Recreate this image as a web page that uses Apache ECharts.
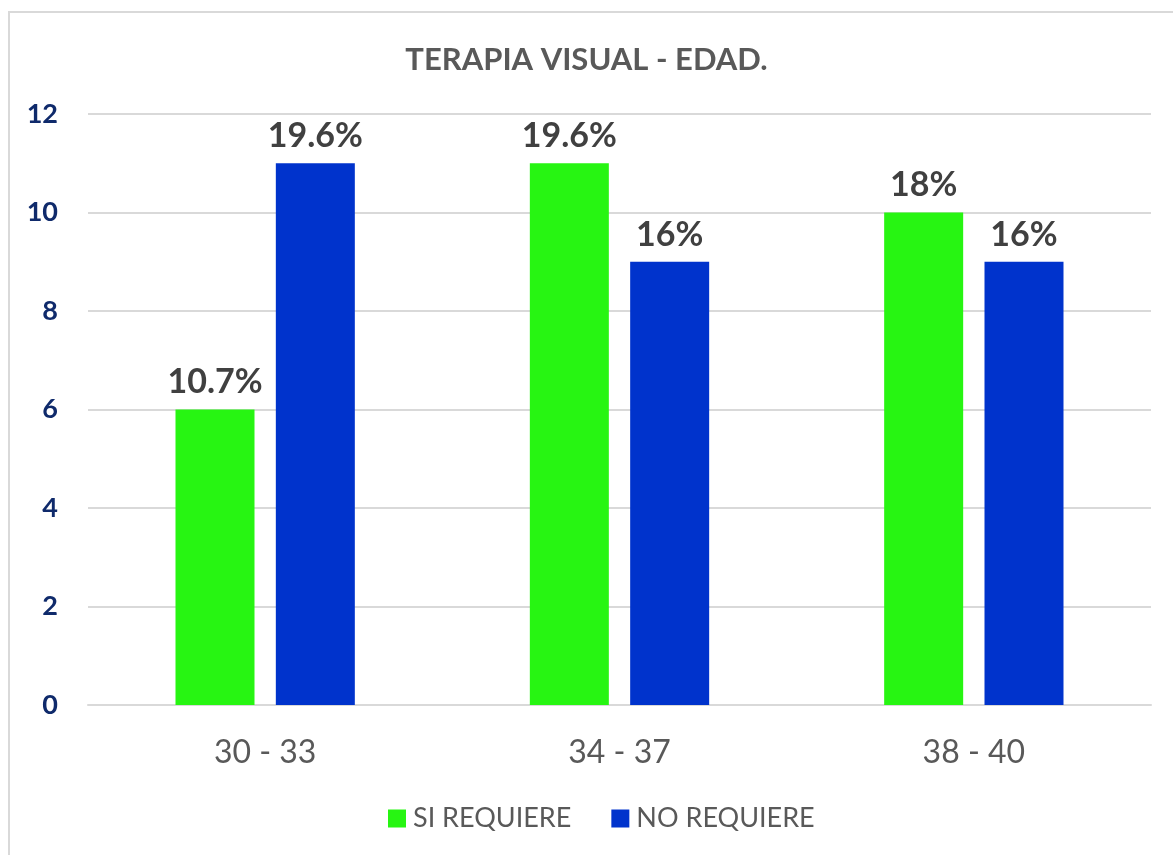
<!DOCTYPE html>
<html>
<head>
<meta charset="utf-8">
<script src="https://cdn.jsdelivr.net/npm/echarts@6/dist/echarts.min.js"></script>
<style>
  html, body { margin: 0; padding: 0; background: #fff; }
  #frame {
    position: absolute; left: 8px; top: 11px;
    width: 1200px; height: 900px;
    border: 2px solid #d9d9d9; box-sizing: border-box;
  }
  #chart { position: absolute; left: 0; top: 0; width: 1173px; height: 855px; }
</style>
</head>
<body>
<div id="frame"></div>
<div id="chart"></div>
<script>
// datos de la gráfica
const categories = ['30 - 33', '34 - 37', '38 - 40']
const siRequiere = [6, 11, 10]
const noRequiere = [11, 9, 9]
const siLabels = ['10.7%', '19.6%', '18%']
const noLabels = ['19.6%', '16%', '16%']

const font = 'Lato, "Open Sans", sans-serif'

let chart = echarts.init(document.getElementById('chart'))

function labelOf(list) {
  return {
    show: true,
    position: 'top',
    distance: 10,
    fontFamily: font,
    fontWeight: 'bold',
    fontSize: 34,
    color: '#404040',
    formatter: p => list[p.dataIndex]
  }
}

chart.setOption({
  animation: false,
  title: {
    text: 'TERAPIA VISUAL - EDAD.',
    left: 'center',
    top: 39,
    textStyle: { fontFamily: font, fontWeight: 'bold', fontSize: 31, color: '#595959' }
  },
  legend: {
    bottom: 18,
    left: 383,
    itemWidth: 18,
    itemHeight: 18,
    itemGap: 40,
    icon: 'rect',
    textStyle: { fontFamily: font, fontSize: 27, color: '#595959', padding: [0, 0, 0, 2] },
    data: ['SI REQUIERE', 'NO REQUIERE']
  },
  grid: { left: 88, right: 22, top: 114, bottom: 150 },
  xAxis: {
    type: 'category',
    data: categories,
    axisLine: { lineStyle: { color: '#d9d9d9', width: 2 } },
    axisTick: { show: false },
    axisLabel: { fontFamily: font, fontSize: 32, color: '#595959', margin: 32 }
  },
  yAxis: {
    type: 'value',
    min: 0,
    max: 12,
    interval: 2,
    axisLine: { show: false },
    axisTick: { show: false },
    splitLine: { lineStyle: { color: '#d9d9d9', width: 2 } },
    axisLabel: { fontFamily: font, fontWeight: 'bold', fontSize: 27, color: '#0f2a6b', margin: 30 }
  },
  series: [
    {
      name: 'SI REQUIERE',
      type: 'bar',
      barWidth: 79,
      barGap: '27%',
      itemStyle: { color: '#27f512' },
      label: labelOf(siLabels),
      data: siRequiere
    },
    {
      name: 'NO REQUIERE',
      type: 'bar',
      barWidth: 79,
      barGap: '27%',
      itemStyle: { color: '#0033cc' },
      label: labelOf(noLabels),
      data: noRequiere
    }
  ]
})
</script>
</body>
</html>
